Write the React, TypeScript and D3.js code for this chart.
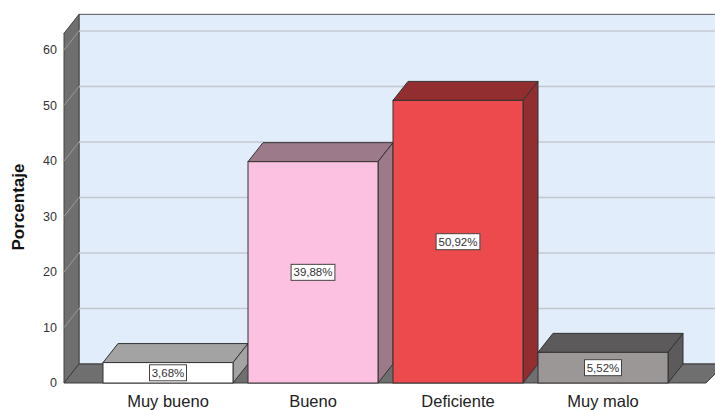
import React from "react";
import * as d3 from "d3";

const categories = ["Muy bueno", "Bueno", "Deficiente", "Muy malo"];
const percentages = [3.68, 39.88, 50.92, 5.52];
const valueLabels = ["3,68%", "39,88%", "50,92%", "5,52%"];
const yTicks = [0, 10, 20, 30, 40, 50, 60];

const frontColors = ["#ffffff", "#fcc0e0", "#ec4a4d", "#9b9797"];
const shadeColors = ["#a3a3a3", "#9c7a89", "#922d30", "#5c5a5a"];

const W = 715;
const H = 410;
const DX = 15;
const DY = 19;
const FLOOR = 383;
const WALL_LEFT = 64;

export default function App() {
  const x = d3
    .scaleBand<string>()
    .domain(categories)
    .range([95.5, 675.5])
    .paddingInner(15 / 145)
    .paddingOuter(7.5 / 145);
  const y = d3.scaleLinear().domain([0, 63]).range([FLOOR, FLOOR - 63 * 5.55]);

  const top = y(63);
  const font = "'Liberation Sans', Arial, sans-serif";

  return (
    <svg
      width={W}
      height={H}
      style={{ position: "absolute", left: 0, top: 0, background: "#fff" }}
      fontFamily={font}
    >
      {/* back wall */}
      <rect
        x={WALL_LEFT + DX}
        y={top - DY}
        width={W - WALL_LEFT - DX + 5}
        height={FLOOR - top}
        fill="#e1edfa"
        stroke="#555"
        strokeWidth={1}
      />
      {/* side wall */}
      <polygon
        points={`${WALL_LEFT},${top} ${WALL_LEFT + DX},${top - DY} ${WALL_LEFT + DX},${FLOOR - DY} ${WALL_LEFT},${FLOOR}`}
        fill="#6f6f6f"
        stroke="#444"
        strokeWidth={1}
      />
      {/* gridlines */}
      {yTicks
        .filter((t) => t > 0)
        .map((t) => (
          <g key={t}>
            <line
              x1={WALL_LEFT + DX}
              x2={W}
              y1={y(t) - DY}
              y2={y(t) - DY}
              stroke="#c3c9d1"
              strokeWidth={1.5}
            />
            <line
              x1={WALL_LEFT}
              x2={WALL_LEFT + DX}
              y1={y(t)}
              y2={y(t) - DY}
              stroke="#9a9a9a"
              strokeWidth={1}
            />
          </g>
        ))}
      {/* floor */}
      <polygon
        points={`${WALL_LEFT},${FLOOR} ${WALL_LEFT + DX},${FLOOR - DY} ${W + 10},${FLOOR - DY} ${706},${FLOOR}`}
        fill="#6f6f6f"
        stroke="#3a3a3a"
        strokeWidth={1}
      />
      {/* tick labels */}
      {yTicks.map((t) => (
        <text
          key={t}
          x={57}
          y={y(t)}
          dy="0.35em"
          textAnchor="end"
          fontSize={12.5}
          fill="#333"
        >
          {t}
        </text>
      ))}
      <text
        transform={`translate(24,${207}) rotate(-90)`}
        textAnchor="middle"
        fontSize={17}
        fontWeight="bold"
        fill="#111"
      >
        Porcentaje
      </text>
      {/* bars */}
      {categories.map((c, i) => {
        const x0 = x(c)!;
        const x1 = x0 + x.bandwidth();
        const y0 = y(percentages[i]);
        const midY = (y0 + FLOOR) / 2;
        const cx = x0 + x.bandwidth() / 2;
        const boxW = valueLabels[i].length * 6.8 + 3;
        const boxH = 16;
        return (
          <g key={c}>
            <polygon
              points={`${x0},${y0} ${x0 + DX},${y0 - DY} ${x1 + DX},${y0 - DY} ${x1},${y0}`}
              fill={shadeColors[i]}
              stroke="#333"
              strokeWidth={1}
              strokeLinejoin="round"
            />
            <polygon
              points={`${x1},${y0} ${x1 + DX},${y0 - DY} ${x1 + DX},${FLOOR - DY} ${x1},${FLOOR}`}
              fill={shadeColors[i]}
              stroke="#333"
              strokeWidth={1}
              strokeLinejoin="round"
            />
            <rect
              x={x0}
              y={y0}
              width={x.bandwidth()}
              height={FLOOR - y0}
              fill={frontColors[i]}
              stroke="#333"
              strokeWidth={1}
            />
            <rect
              x={cx - boxW / 2}
              y={midY - boxH / 2}
              width={boxW}
              height={boxH}
              fill="#fff"
              stroke="#444"
              strokeWidth={1}
            />
            <text
              x={cx}
              y={midY}
              dy="0.36em"
              textAnchor="middle"
              fontSize={11.5}
              fill="#333"
            >
              {valueLabels[i]}
            </text>
            <text
              x={cx}
              y={401}
              dy="0.36em"
              textAnchor="middle"
              fontSize={16.5}
              fill="#222"
            >
              {c}
            </text>
          </g>
        );
      })}
    </svg>
  );
}
